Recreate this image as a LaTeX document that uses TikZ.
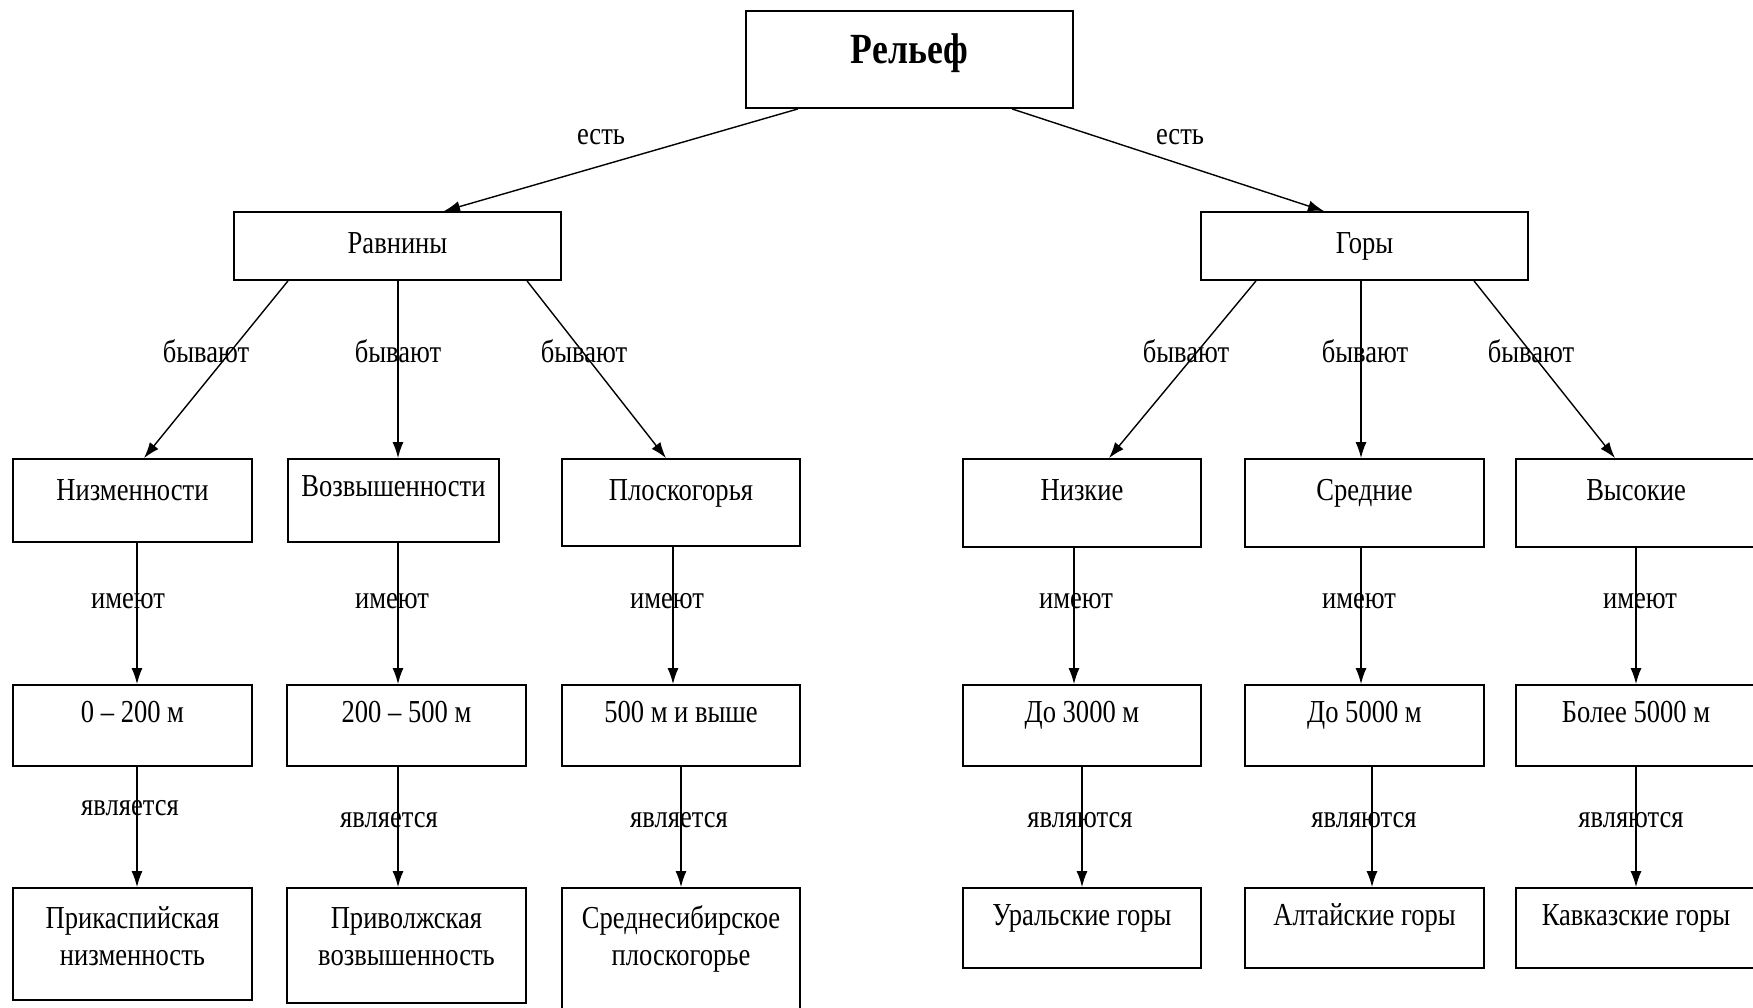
\documentclass[tikz,border=0pt]{standalone}
\usepackage{fontspec}
\setmainfont{Liberation Serif}[FakeStretch=0.83]
\usetikzlibrary{arrows.meta}
\tikzset{
  box/.style={draw, line width=1.8pt, inner sep=0pt, align=center,
    font=\fontsize{32}{37}\selectfont},
  lbl/.style={inner sep=0pt, anchor=base, font=\fontsize{32}{37}\selectfont},
  arr/.style={line width=1.4pt, -{Latex[length=16pt,width=11pt]}},
  td/.style 2 args={text height=#1pt, text depth=#2pt}
}
\begin{document}
\begin{tikzpicture}[x=1pt,y=-1pt]
\clip (0,0) rectangle (1753,1007);
\fill[white] (0,0) rectangle (1753,1007);
% level 0
\node[box, minimum width=327pt, minimum height=97pt, td={24}{17},
  font=\fontsize{43}{48}\selectfont\bfseries] (rel) at (909.5,59.5) {Рельеф};
% level 1
\node[box, minimum width=327pt, minimum height=68pt, td={22}{8}] (rav) at (397.5,246) {Равнины};
\node[box, minimum width=327pt, minimum height=68pt, td={22}{8}] (gor) at (1364.5,246) {Горы};
% level 2
\node[box, minimum width=239pt, minimum height=83pt, td={15}{15}] (niz) at (132.5,500.5) {Низменности};
\node[box, minimum width=211pt, minimum height=83pt, td={12}{21}] (voz) at (393.5,500.5) {Возвышенности};
\node[box, minimum width=238pt, minimum height=87pt, td={13}{18}] (plo) at (681,502.5) {Плоскогорья};
\node[box, minimum width=238pt, minimum height=88pt, td={12}{18}] (nzk) at (1082,503) {Низкие};
\node[box, minimum width=239pt, minimum height=88pt, td={12}{18}] (sre) at (1364.5,503) {Средние};
\node[box, minimum width=240pt, minimum height=88pt, td={12}{18}] (vys) at (1636,503) {Высокие};
% level 3
\node[box, minimum width=239pt, minimum height=81pt, td={12}{19}] (h1) at (132.5,725.5) {0 – 200 м};
\node[box, minimum width=239pt, minimum height=81pt, td={12}{19}] (h2) at (406.5,725.5) {200 – 500 м};
\node[box, minimum width=238pt, minimum height=81pt, td={12}{19}] (h3) at (681,725.5) {500 м и выше};
\node[box, minimum width=238pt, minimum height=81pt, td={12}{19}] (h4) at (1082,725.5) {До 3000 м};
\node[box, minimum width=239pt, minimum height=81pt, td={12}{19}] (h5) at (1364.5,725.5) {До 5000 м};
\node[box, minimum width=240pt, minimum height=81pt, td={12}{19}] (h6) at (1636,725.5) {Более 5000 м};
% level 4
\node[box, minimum width=239pt, minimum height=112pt, td={8}{40}] (e1) at (132.5,944)
  {\begin{tabular}[t]{@{}c@{}}Прикаспийская\\низменность\end{tabular}};
\node[box, minimum width=239pt, minimum height=115pt, td={6}{41}] (e2) at (406.5,945.5)
  {\begin{tabular}[t]{@{}c@{}}Приволжская\\возвышенность\end{tabular}};
\node[box, minimum width=238pt, minimum height=132pt, td={4}{56}] (e3) at (681,954)
  {\begin{tabular}[t]{@{}c@{}}Среднесибирское\\плоскогорье\end{tabular}};
\node[box, minimum width=238pt, minimum height=80pt, td={12}{18}] (e4) at (1082,928) {Уральские горы};
\node[box, minimum width=239pt, minimum height=80pt, td={12}{18}] (e5) at (1364.5,928) {Алтайские горы};
\node[box, minimum width=240pt, minimum height=80pt, td={12}{18}] (e6) at (1636,928) {Кавказские горы};
% connectors level 0 -> 1
\draw[arr] ([xshift=-111.5pt]rel.south) -- ([xshift=46.5pt]rav.north);
\draw[arr] ([xshift=102.5pt]rel.south) -- ([xshift=-40.5pt]gor.north);
% level 1 -> 2
\draw[arr] ([xshift=-109.5pt]rav.south) -- ([xshift=11.5pt]niz.north);
\draw[arr] ([xshift=0.5pt]rav.south) -- ([xshift=4.5pt]voz.north);
\draw[arr] ([xshift=129.5pt]rav.south) -- ([xshift=-15pt]plo.north);
\draw[arr] ([xshift=-108.5pt]gor.south) -- ([xshift=27pt]nzk.north);
\draw[arr] ([xshift=-3.5pt]gor.south) -- ([xshift=-3.5pt]sre.north);
\draw[arr] ([xshift=109.5pt]gor.south) -- ([xshift=-21pt]vys.north);
% level 2 -> 3
\draw[arr] ([xshift=4.5pt]niz.south) -- ([xshift=4.5pt]h1.north);
\draw[arr] ([xshift=4.5pt]voz.south) -- ([xshift=-8.5pt]h2.north);
\draw[arr] ([xshift=-8pt]plo.south) -- ([xshift=-8pt]h3.north);
\draw[arr] ([xshift=-8pt]nzk.south) -- ([xshift=-8pt]h4.north);
\draw[arr] ([xshift=-3.5pt]sre.south) -- ([xshift=-3.5pt]h5.north);
\draw[arr] (vys.south) -- (h6.north);
% level 3 -> 4
\draw[arr] ([xshift=4.5pt]h1.south) -- ([xshift=4.5pt]e1.north);
\draw[arr] ([xshift=-8.5pt]h2.south) -- ([xshift=-8.5pt]e2.north);
\draw[arr] (h3.south) -- (e3.north);
\draw[arr] (h4.south) -- (e4.north);
\draw[arr] ([xshift=7.5pt]h5.south) -- ([xshift=7.5pt]e5.north);
\draw[arr] (h6.south) -- (e6.north);
% labels
\node[lbl] (l1) at (601,144) {есть};
\node[lbl] (l2) at (1180,144) {есть};
\node[lbl] (b1) at (206,362) {бывают};
\node[lbl] (b2) at (398,362) {бывают};
\node[lbl] (b3) at (584,362) {бывают};
\node[lbl] (b4) at (1186,362) {бывают};
\node[lbl] (b5) at (1365,362) {бывают};
\node[lbl] (b6) at (1531,362) {бывают};
\node[lbl] (i1) at (128,608) {имеют};
\node[lbl] (i2) at (392,608) {имеют};
\node[lbl] (i3) at (667,608) {имеют};
\node[lbl] (i4) at (1076,608) {имеют};
\node[lbl] (i5) at (1359,608) {имеют};
\node[lbl] (i6) at (1640,608) {имеют};
\node[lbl] (y1) at (130,815) {является};
\node[lbl] (y2) at (389,827) {является};
\node[lbl] (y3) at (679,827) {является};
\node[lbl] (y4) at (1080,827) {являются};
\node[lbl] (y5) at (1364,827) {являются};
\node[lbl] (y6) at (1631,827) {являются};
\end{tikzpicture}
\end{document}
